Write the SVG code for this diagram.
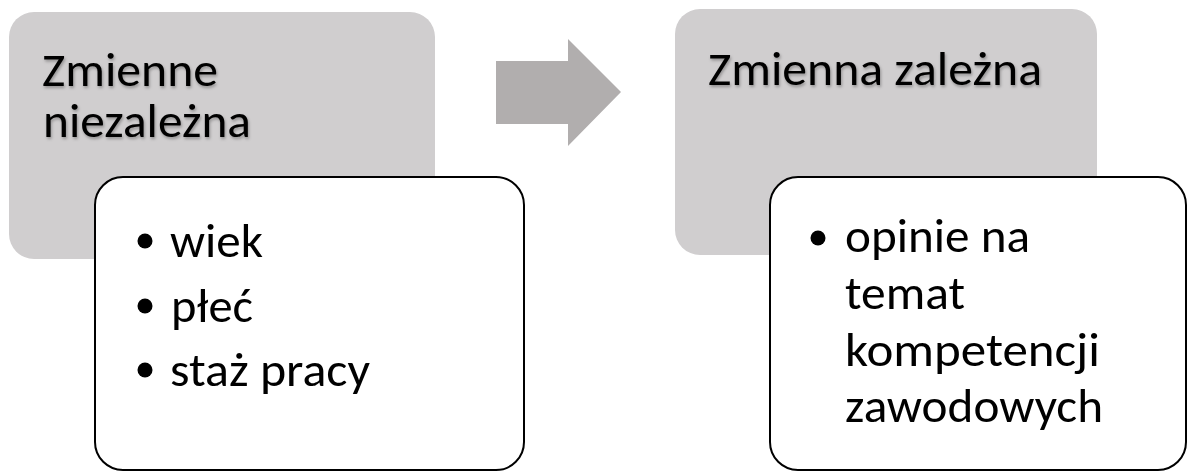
<svg xmlns="http://www.w3.org/2000/svg" width="1187" height="472" viewBox="0 0 1187 472">
<defs>
<filter id="sh" x="-5%" y="-20%" width="110%" height="150%">
<feDropShadow dx="1" dy="2" stdDeviation="1.5" flood-color="#000" flood-opacity="0.3"/>
</filter>
<style>
.gray{fill:#d0cecf;}
.white{fill:#ffffff;stroke:#000000;stroke-width:2;}
.arrow{fill:#b1aeae;}
text{font-family:Carlito,Calibri,Lato,"Liberation Sans",sans-serif;font-size:48px;fill:#000;}
.title{filter:url(#sh);}
.dot{fill:#000;}
</style>
</defs>
<g id="node-left-parent">
<rect class="gray" x="9" y="12" width="426" height="247" rx="25"/>
<text class="title" x="42" y="86" textLength="176" lengthAdjust="spacingAndGlyphs">Zmienne</text>
<text class="title" x="43" y="137" textLength="208" lengthAdjust="spacingAndGlyphs">niezależna</text>
</g>
<g id="node-left-child">
<rect class="white" x="95" y="177" width="429" height="293" rx="28"/>
<circle class="dot" cx="145" cy="241" r="7.5"/>
<text x="170" y="257" textLength="93" lengthAdjust="spacingAndGlyphs">wiek</text>
<circle class="dot" cx="145" cy="306" r="7.5"/>
<text x="171" y="322" textLength="82" lengthAdjust="spacingAndGlyphs">płeć</text>
<circle class="dot" cx="145" cy="370" r="7.5"/>
<text x="170" y="386" textLength="200" lengthAdjust="spacingAndGlyphs">staż pracy</text>
</g>
<g id="connectors">
<polygon class="arrow" points="496,61 568,61 568,39 621,92 568,146 568,124 496,124"/>
</g>
<g id="node-right-parent">
<rect class="gray" x="675" y="9" width="422" height="246" rx="25"/>
<text class="title" x="708" y="85" textLength="334" lengthAdjust="spacingAndGlyphs">Zmienna zależna</text>
</g>
<g id="node-right-child">
<rect class="white" x="770" y="177" width="416" height="293" rx="28"/>
<circle class="dot" cx="818" cy="238" r="7.5"/>
<text x="845" y="252" textLength="185" lengthAdjust="spacingAndGlyphs">opinie na</text>
<text x="845" y="309" textLength="120" lengthAdjust="spacingAndGlyphs">temat</text>
<text x="845" y="366" textLength="255" lengthAdjust="spacingAndGlyphs">kompetencji</text>
<text x="845" y="422" textLength="258" lengthAdjust="spacingAndGlyphs">zawodowych</text>
</g>
</svg>
